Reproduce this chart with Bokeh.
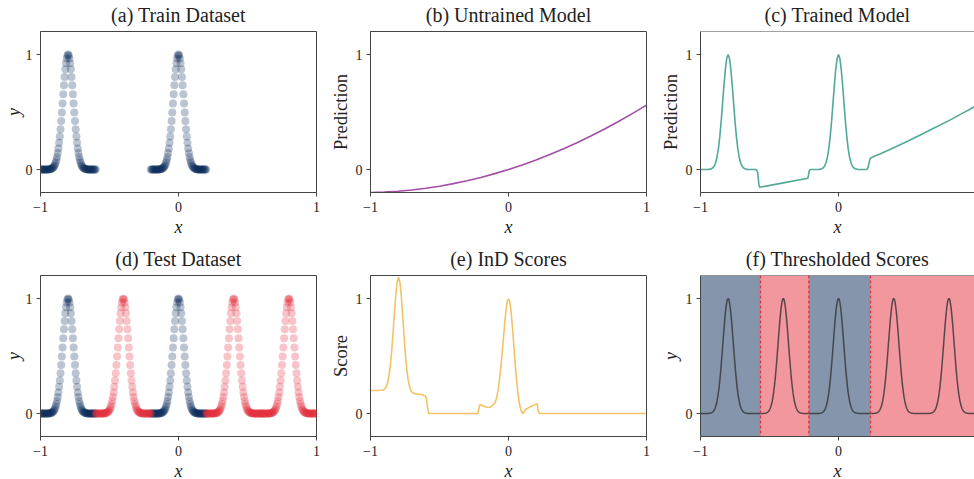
import numpy as np
from bokeh.plotting import figure
from bokeh.layouts import column, row
from bokeh.models import Range1d, FixedTicker, Span
from bokeh.embed import file_html
from bokeh.resources import INLINE

# ---------------- data ----------------
# sample offsets of one data bump (step 0.005 from -0.2 to 0.2)
bump_dx = np.round(np.arange(-40, 41) * 0.005, 3)
bump_y = [0.0, 0.0, 0.0, 0.0, 0.0, 0.0, 0.0, 0.0, 0.0, 0.0, 0.0,
          0.001, 0.001, 0.002, 0.003, 0.005, 0.007, 0.010, 0.015, 0.022, 0.031,
          0.044, 0.061, 0.082, 0.109, 0.143, 0.183, 0.232, 0.288, 0.351, 0.421,
          0.496, 0.575, 0.654, 0.732, 0.805, 0.871, 0.925, 0.966, 0.991,
          1.0,
          0.991, 0.966, 0.925, 0.871, 0.805, 0.732, 0.654, 0.575, 0.496,
          0.421, 0.351, 0.288, 0.232, 0.183, 0.143, 0.109, 0.082, 0.061, 0.044,
          0.031, 0.022, 0.015, 0.010, 0.007, 0.005, 0.003, 0.002, 0.001, 0.001,
          0.0, 0.0, 0.0, 0.0, 0.0, 0.0, 0.0, 0.0, 0.0, 0.0, 0.0]

train_centers = [-0.8, 0.0]
test_centers = [-0.8, -0.4, 0.0, 0.4, 0.8]
test_in_dist = [True, False, True, False, False]

# untrained model prediction
untrained_x = [-1.0, -0.9, -0.8, -0.7, -0.6, -0.5, -0.4, -0.3, -0.2, -0.1, 0.0,
               0.1, 0.2, 0.3, 0.4, 0.5, 0.6, 0.7, 0.8, 0.9, 1.0]
untrained_y = [-0.2, -0.196, -0.189, -0.178, -0.163, -0.145, -0.123, -0.098, -0.069, -0.036, 0.0,
               0.040, 0.083, 0.130, 0.181, 0.235, 0.293, 0.354, 0.419, 0.488, 0.56]

# trained model prediction
peak_line_dx = [-0.14, -0.13, -0.12, -0.11, -0.10, -0.09, -0.08, -0.07, -0.06, -0.05,
                -0.04, -0.03, -0.02, -0.01, 0.0, 0.01, 0.02, 0.03, 0.04, 0.05,
                0.06, 0.07, 0.08, 0.09, 0.10, 0.11, 0.12, 0.13, 0.14]
peak_line_y = [0.001, 0.003, 0.007, 0.015, 0.031, 0.061, 0.109, 0.183, 0.288, 0.421,
               0.575, 0.732, 0.871, 0.966, 1.0, 0.966, 0.871, 0.732, 0.575, 0.421,
               0.288, 0.183, 0.109, 0.061, 0.031, 0.015, 0.007, 0.003, 0.001]
trained_gap1_x = [-0.62, -0.60, -0.59, -0.585, -0.578, -0.572, -0.4, -0.222, -0.218, -0.212, -0.205]
trained_gap1_y = [0.0, 0.0, -0.01, -0.03, -0.12, -0.155, -0.116, -0.076, -0.05, -0.01, 0.0]
trained_tail_x = [0.2, 0.205, 0.212, 0.22, 0.228, 0.235, 0.3, 0.4, 0.5, 0.6, 0.7, 0.8, 0.9, 1.0]
trained_tail_y = [0.0, 0.0, 0.01, 0.05, 0.09, 0.102, 0.135, 0.19, 0.245, 0.305, 0.365, 0.425, 0.49, 0.555]
trained_x = ([-1.0, -0.95] + [round(-0.8 + d, 3) for d in peak_line_dx] + trained_gap1_x
             + [round(0.0 + d, 3) for d in peak_line_dx] + trained_tail_x)
trained_y = [0.0, 0.0] + peak_line_y + trained_gap1_y + peak_line_y + trained_tail_y

# InD scores
score_x = [-1.0, -0.95, -0.92,
           -0.907, -0.897, -0.887, -0.877, -0.867, -0.857, -0.847, -0.837, -0.827, -0.817, -0.807,
           -0.797, -0.787, -0.777, -0.767, -0.757, -0.747, -0.737, -0.727, -0.717, -0.707, -0.697, -0.687,
           -0.66, -0.63, -0.605, -0.595, -0.585, -0.578,
           -0.222, -0.215, -0.208, -0.19, -0.17, -0.15, -0.135, -0.12,
           -0.10, -0.09, -0.08, -0.07, -0.06, -0.05, -0.04, -0.03, -0.02, -0.01, 0.0,
           0.01, 0.02, 0.03, 0.04, 0.05, 0.06, 0.07, 0.08, 0.09, 0.10,
           0.106, 0.115, 0.13, 0.16, 0.19, 0.208, 0.213, 0.22, 0.227, 1.0]
score_y = [0.20, 0.20, 0.202,
           0.205, 0.213, 0.23, 0.262, 0.318, 0.408, 0.534, 0.693, 0.868, 1.028, 1.144,
           1.185, 1.142, 1.024, 0.858, 0.678, 0.514, 0.384, 0.292, 0.234, 0.20, 0.183, 0.175,
           0.17, 0.165, 0.155, 0.13, 0.04, 0.0,
           0.0, 0.04, 0.075, 0.07, 0.058, 0.052, 0.055, 0.065,
           0.09, 0.12, 0.17, 0.25, 0.35, 0.47, 0.61, 0.75, 0.88, 0.97, 1.0,
           0.97, 0.87, 0.73, 0.57, 0.41, 0.27, 0.16, 0.08, 0.03, 0.005,
           0.0, 0.02, 0.04, 0.06, 0.075, 0.084, 0.04, 0.005, 0.0, 0.0]

# thresholded regions
region_left = [-1.0, -0.565, -0.215, 0.232]
region_right = [-0.565, -0.215, 0.232, 1.0]
region_in_dist = [True, False, True, False]
thresholds = [-0.565, -0.215, 0.232]

x_ticks = [-1, 0, 1]
x_tick_labels = ["\u22121", "0", "1"]
y_ticks = [0, 1]
y_tick_labels = ["0", "1"]

# ---------------- style ----------------
FONT = "Liberation Serif"
AX = "#444444"
NAVY = "#0b2c5a"
RED = "#e3303c"
PURPLE = "#a24fa5"
TEAL = "#52a997"
GOLD = "#f2c266"
GRAYLINE = "#333333"
Y0, Y1 = -0.2, 1.2
FH = 161


def make_fig(title, ylabel, y_italic, lb, rb, tb, bb, fw, x_end, outline=True, ylab_standoff=2):
    p = figure(frame_width=fw, frame_height=FH,
               x_range=Range1d(-1, x_end), y_range=Range1d(Y0, Y1),
               output_backend="svg", toolbar_location=None,
               min_border_left=lb, min_border_right=rb,
               min_border_top=tb, min_border_bottom=bb, title=title)
    p.title.align = "center"
    p.title.vertical_align = "top"
    p.title.text_font = FONT
    p.title.text_font_size = "20px"
    p.title.text_font_style = "normal"
    p.title.text_color = "#222222"
    p.title.standoff = 7
    p.xgrid.visible = False
    p.ygrid.visible = False
    p.background_fill_color = "white"
    p.border_fill_color = "white"
    if outline:
        p.outline_line_color = AX
        p.outline_line_width = 1
    else:
        p.outline_line_color = None
        p.add_layout(Span(location=Y1, dimension="width", line_color=AX, line_width=1))
    for ax in (p.xaxis[0], p.yaxis[0]):
        ax.axis_line_color = AX
        ax.major_tick_line_color = AX
        ax.major_tick_out = 4
        ax.major_tick_in = 0
        ax.minor_tick_line_color = None
        ax.major_label_text_font = FONT
        ax.major_label_text_font_size = "14px"
        ax.major_label_text_color = "#222222"
        ax.axis_label_text_font = FONT
        ax.axis_label_text_color = "#222222"
    p.xaxis.ticker = FixedTicker(ticks=x_ticks)
    p.xaxis.major_label_overrides = dict(zip(x_ticks, x_tick_labels))
    p.yaxis.ticker = FixedTicker(ticks=y_ticks)
    p.yaxis.major_label_overrides = dict(zip(y_ticks, y_tick_labels))
    p.xaxis.axis_label = "x"
    p.xaxis.axis_label_text_font_style = "italic"
    p.xaxis.axis_label_text_font_size = "18px"
    p.xaxis.major_label_standoff = 5
    p.xaxis.axis_label_standoff = 2
    p.yaxis.axis_label = ylabel
    p.yaxis.axis_label_text_font_style = "italic" if y_italic else "normal"
    p.yaxis.axis_label_text_font_size = "18px" if y_italic else "18.5px"
    p.yaxis.major_label_standoff = 4
    p.yaxis.axis_label_standoff = ylab_standoff
    return p


TOP, MID_B, BOT = 31, 52, 43
W, WC = 276, 274
XC_END = -1 + 2 * WC / W

# (a) Train dataset
pa = make_fig("(a) Train Dataset", "y", True, 40, 4, TOP, MID_B, W, 1, ylab_standoff=-1)
for c in train_centers:
    pa.scatter([c + d for d in bump_dx], bump_y, size=8, fill_color=NAVY,
               fill_alpha=0.28, line_color=None)

# (b) Untrained model
pb = make_fig("(b) Untrained Model", "Prediction", False, 50, 4, TOP, MID_B, W, 1)
pb.line(untrained_x, untrained_y, line_color=PURPLE, line_width=1.6)

# (c) Trained model
pc = make_fig("(c) Trained Model", "Prediction", False, 50, 0, TOP, MID_B, WC,
              XC_END, outline=False)
pc.line(trained_x, trained_y, line_color=TEAL, line_width=1.6)

# (d) Test dataset
pd_ = make_fig("(d) Test Dataset", "y", True, 40, 4, TOP, BOT, W, 1, ylab_standoff=-1)
for c, ind in zip(test_centers, test_in_dist):
    if ind:
        pd_.scatter([c + d for d in bump_dx], bump_y, size=8, fill_color=NAVY,
                    fill_alpha=0.28, line_color=None)
for c, ind in zip(test_centers, test_in_dist):
    if not ind:
        pd_.scatter([c + d for d in bump_dx], bump_y, size=8, fill_color=RED,
                    fill_alpha=0.28, line_color=None)

# (e) InD scores
pe = make_fig("(e) InD Scores", "Score", False, 50, 4, TOP, BOT, W, 1)
pe.line(score_x, score_y, line_color=GOLD, line_width=1.6)

# (f) Thresholded scores
pf = make_fig("(f) Thresholded Scores", "y", True, 50, 0, TOP, BOT, WC,
              XC_END, outline=False)
pf.quad(left=region_left, right=region_right, bottom=Y0, top=Y1,
        fill_color=[NAVY if i else RED for i in region_in_dist],
        fill_alpha=0.5, line_color=None)
test_line_x = []
test_line_y = []
for k, c in enumerate(test_centers):
    xs = [round(c + d, 3) for d in bump_dx]
    if k > 0:
        xs, ys = xs[1:], bump_y[1:]
    else:
        ys = bump_y
    test_line_x += xs
    test_line_y += ys
pf.line(test_line_x, test_line_y, line_color=GRAYLINE, line_alpha=0.8, line_width=1.5)
for t in thresholds:
    pf.add_layout(Span(location=t, dimension="height", line_color=RED,
                       line_dash="3 2", line_width=1.3))

layout = column(row(pa, pb, pc), row(pd_, pe, pf))
open("out.html", "w").write(file_html(layout, INLINE))
